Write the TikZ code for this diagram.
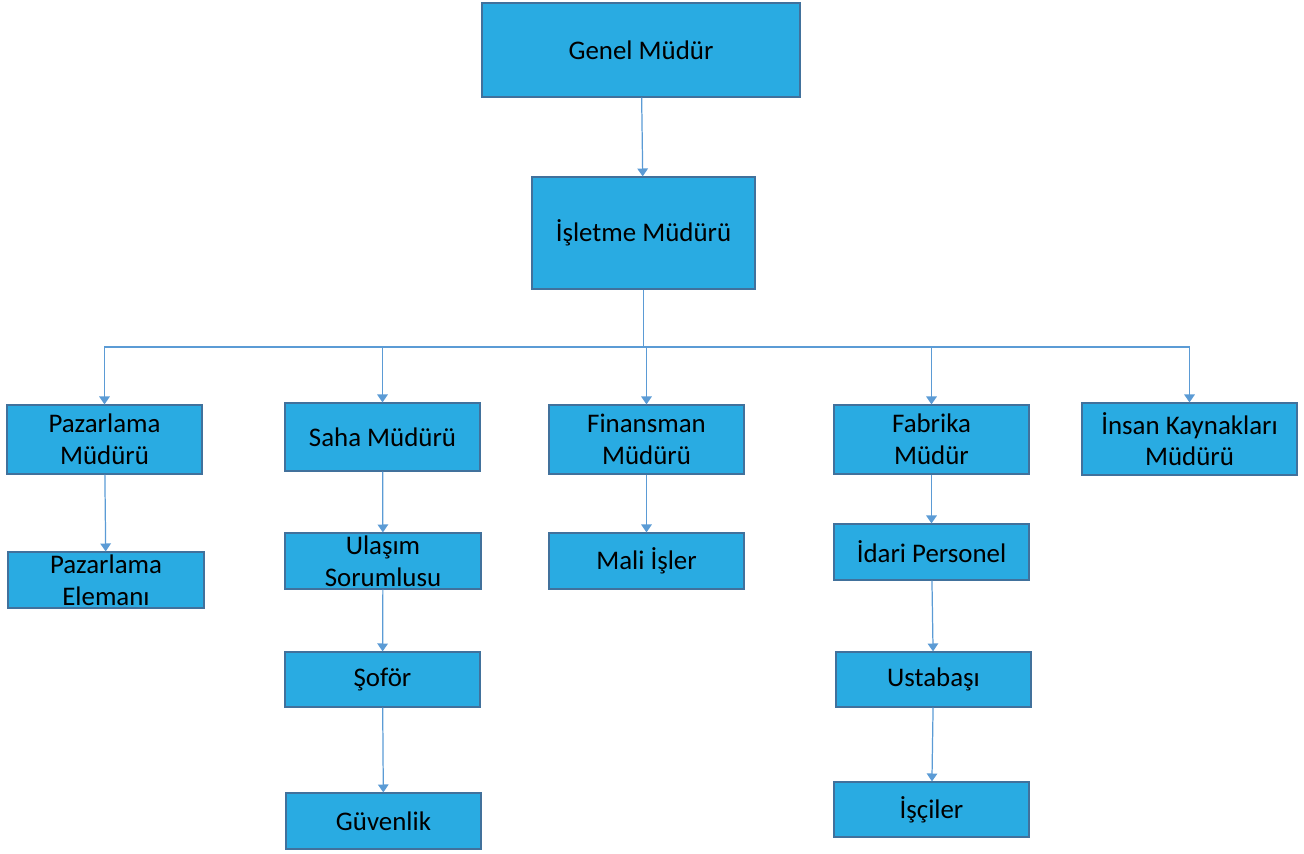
\documentclass[tikz,border=0pt]{standalone}
\usepackage{fontspec}
\setmainfont{Carlito}
\usepackage{tikz}
\usetikzlibrary{arrows.meta}

\definecolor{boxfill}{HTML}{29ABE2}
\definecolor{boxline}{HTML}{41719C}
\definecolor{linkline}{HTML}{5B9BD5}

\begin{document}
\begin{tikzpicture}[x=0.02cm,y=-0.02cm,
  k/.style={rectangle,draw=boxline,fill=boxfill,line width=0.7pt,inner sep=0pt,align=center,
    minimum width=3.9cm,minimum height=1.12cm,font=\fontsize{15.3}{18}\selectfont},
  lnk/.style={draw=linkline,line width=0.7pt,-{Triangle[width=6pt,length=4.5pt]}}]
  \useasboundingbox (0,0) rectangle (1304,853);

  % top
  \node[k,minimum width=6.36cm,minimum height=1.88cm] (gm) at (641,50) {Genel Müdür};
  \node[k,minimum width=4.46cm,minimum height=2.24cm] (im) at (643.5,233) {İşletme Müdürü};

  % managers
  \node[k,minimum height=1.38cm] (pm) at (104.5,439.5) {Pazarlama\\Müdürü};
  \node[k,minimum height=1.36cm] (sm) at (382.5,437) {Saha Müdürü};
  \node[k,minimum height=1.38cm] (fm) at (646.5,439.5) {Finansman\\Müdürü};
  \node[k,minimum height=1.38cm] (fb) at (931.5,439.5) {Fabrika\\Müdür};
  \node[k,minimum width=4.3cm,minimum height=1.44cm] (ik) at (1189.5,439) {İnsan Kaynakları\\Müdürü};

  % staff
  \node[k,minimum width=3.92cm] (pe) at (106,580) {Pazarlama\\Elemanı};
  \node[k,minimum width=3.92cm] (us) at (383,561) {Ulaşım\\Sorumlusu};
  \node[k,minimum height=1.1cm] (sf) at (382.5,679.5) {Şoför};
  \node[k] (gv) at (383.5,821) {Güvenlik};
  \node[k] (mi) at (646.5,561) {Mali İşler};
  \node[k] (ip) at (931.5,552) {İdari Personel};
  \node[k,minimum height=1.1cm] (ub) at (933.5,679.5) {Ustabaşı};
  \node[k,minimum height=1.1cm] (ic) at (931.5,809.5) {İşçiler};

  \coordinate (bus) at (643.5,347);

  \draw[lnk] (gm) -- (im);
  \draw[draw=linkline,line width=0.7pt] (im) -- (bus);
  \draw[lnk] (bus) -| (pm.north);
  \draw[lnk] (bus) -| (sm.north);
  \draw[lnk] (bus) -| (fm.north);
  \draw[lnk] (bus) -| (fb.north);
  \draw[lnk] (bus) -| (ik.north);

  \draw[lnk] (pm) -- (pe);
  \draw[lnk] (sm) -- (us);
  \draw[lnk] (us) -- (sf);
  \draw[lnk] (sf) -- (gv);
  \draw[lnk] (fm) -- (mi);
  \draw[lnk] (fb) -- (ip);
  \draw[lnk] (ip) -- (ub);
  \draw[lnk] (ub) -- (ic);
\end{tikzpicture}
\end{document}
